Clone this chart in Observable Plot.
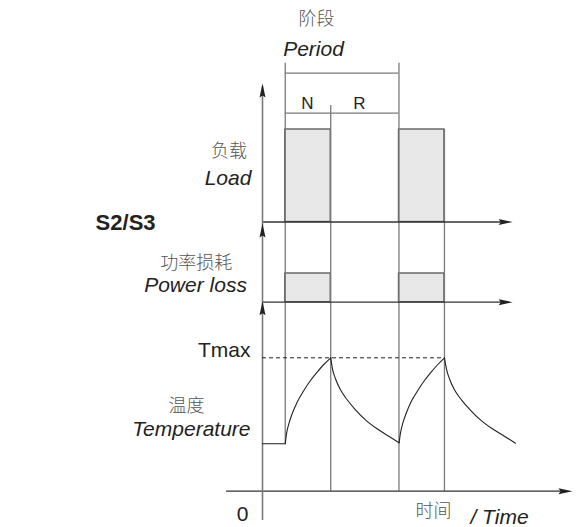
<!DOCTYPE html>
<html>
<head>
<meta charset="utf-8">
<script src="https://cdn.jsdelivr.net/npm/d3@7"></script>
<script src="https://cdn.jsdelivr.net/npm/@observablehq/plot@0.6"></script>
<style>
  html, body { margin: 0; padding: 0; background: #fff; }
</style>
</head>
<body>
<div id="chart"></div>
<script>
// ---- Data (time in period units, values in diagram units) ----
const phaseNames = ["N", "R"];
const phaseStart = [1, 3];
const phaseEnd = [3, 6];
const onStart = [1, 6];          // load switched on
const onEnd = [3, 8];            // load switched off
const loadLevel = 9.25;          // load height above its baseline
const powerLevel = 2.87;         // power loss height above its baseline
const ambientTemp = 4.74;
const maxTemp = 13.34;
const arrowEnd = 11;             // end of load / power axes
const timeEnd = 13.63;           // end of time axis

const tempTime = [
  0, 1,
  1, 1.055, 1.158, 1.304, 1.524, 1.817, 2.110, 2.403, 2.696, 3.0,
  3.0, 3.077, 3.209, 3.429, 3.722, 4.088, 4.527, 5.040, 5.553, 6.007,
  6.007, 6.066, 6.169, 6.315, 6.535, 6.828, 7.121, 7.414, 7.707, 8.0,
  8.0, 8.088, 8.220, 8.440, 8.747, 9.128, 9.582, 10.110, 10.637, 11.121
];
const tempValue = [
  4.74, 4.74,
  4.74, 5.74, 6.74, 7.74, 8.90, 10.07, 11.07, 11.90, 12.67, 13.34,
  13.34, 12.24, 11.24, 10.14, 9.14, 8.14, 7.14, 6.24, 5.50, 4.84,
  4.84, 5.80, 6.80, 7.77, 8.94, 10.07, 11.07, 11.90, 12.67, 13.34,
  13.34, 12.24, 11.24, 10.14, 9.14, 8.14, 7.14, 6.24, 5.50, 4.80
];
const tempSegment = [
  "flat", "flat",
  "rise1","rise1","rise1","rise1","rise1","rise1","rise1","rise1","rise1","rise1",
  "cool1","cool1","cool1","cool1","cool1","cool1","cool1","cool1","cool1","cool1",
  "rise2","rise2","rise2","rise2","rise2","rise2","rise2","rise2","rise2","rise2",
  "cool2","cool2","cool2","cool2","cool2","cool2","cool2","cool2","cool2","cool2"
];

const labels = {
  period: ["阶段", "Period"],
  load: ["负载", "Load"],
  power: ["功率损耗", "Power loss"],
  temp: ["温度", "Temperature"],
  tmax: "Tmax",
  zero: "0",
  time: ["时间", "/ Time"],
  mode: "S2/S3"
};

// ---- Layout (diagram units) ----
const loadBase = 26.92;
const powerBase = 18.9;
const bracketTop = 42.8;
const bracketLine1 = 41.8;
const bracketLine2 = 37.8;
const midTickTop = 38.57;
const axisTop = 40.77;
const axisBottom = -2.93;
const timeAxisStart = -1.58;

const intervals = onStart.map((s, i) => ({start: s, end: onEnd[i]}));
const tempData = tempTime.map((t, i) => ({t, v: tempValue[i], seg: tempSegment[i]}));

// narrow filled arrowhead, tip at origin pointing up
const arrowHead = {
  draw(ctx) {
    ctx.moveTo(0, 0);
    ctx.lineTo(-3, 14);
    ctx.lineTo(0, 12);
    ctx.lineTo(3, 14);
    ctx.closePath();
  }
};

const cjk = {fontFamily: "Noto Sans CJK SC", fontSize: 18, fill: "#555", fontWeight: 300};
const lat = {fontFamily: "Liberation Sans, Arial, sans-serif", fontSize: 21, fill: "#222"};
const ital = {...lat, fontStyle: "italic"};

const gray = "#7a7a7a";
const dark = "#333";

const chart = Plot.plot({
  width: 576,
  height: 527,
  marginLeft: 262,
  marginRight: 4,
  marginTop: 0,
  marginBottom: 0,
  x: {domain: [0, timeEnd], axis: null},
  y: {domain: [-3.63, 49.07], axis: null},
  style: {background: "#fff"},
  marks: [
    // load bars
    Plot.rectY(intervals, {x1: "start", x2: "end", y1: loadBase, y2: loadBase + loadLevel,
      fill: "#e8e8e8", stroke: "#555", strokeWidth: 1.3}),
    // power-loss bars
    Plot.rectY(intervals, {x1: "start", x2: "end", y1: powerBase, y2: powerBase + powerLevel,
      fill: "#e8e8e8", stroke: "#555", strokeWidth: 1.3}),
    // period boundary verticals
    Plot.ruleX([phaseStart[0]], {y1: ambientTemp, y2: bracketTop, stroke: gray, strokeWidth: 1.3}),
    Plot.ruleX([phaseEnd[0]], {y1: 0, y2: midTickTop, stroke: gray, strokeWidth: 1.3}),
    Plot.ruleX([phaseEnd[1]], {y1: 0, y2: bracketTop, stroke: gray, strokeWidth: 1.3}),
    Plot.ruleX([onEnd[1]], {y1: 0, y2: loadBase + loadLevel, stroke: gray, strokeWidth: 1.3}),
    // period bracket
    Plot.ruleY([bracketLine1, bracketLine2], {x1: phaseStart[0], x2: phaseEnd[1], stroke: gray, strokeWidth: 1.3}),
    // baselines
    Plot.ruleY([loadBase, powerBase], {x1: 0, x2: arrowEnd - 0.3, stroke: dark, strokeWidth: 1.3}),
    Plot.ruleY([0], {x1: timeAxisStart, x2: timeEnd - 0.3, stroke: dark, strokeWidth: 1.3}),
    // main vertical axis
    Plot.ruleX([0], {y1: axisBottom, y2: axisTop - 0.3, stroke: gray, strokeWidth: 1.6}),
    // Tmax dashed
    Plot.ruleY([maxTemp], {x1: 0, x2: onEnd[1], stroke: "#222", strokeWidth: 1, strokeDasharray: "4,3"}),
    // temperature curve
    Plot.line(tempData, {x: "t", y: "v", z: "seg", curve: "monotone-x", stroke: "#222", strokeWidth: 1.1}),
    // arrowheads
    Plot.dot([{x: 0, y: axisTop}, {x: 0, y: loadBase - 0.15}, {x: 0, y: powerBase + 0.1}],
      {x: "x", y: "y", symbol: arrowHead, fill: "#222", stroke: "none", r: 5}),
    Plot.dot([{x: arrowEnd, y: loadBase}, {x: arrowEnd, y: powerBase}, {x: timeEnd, y: 0}],
      {x: "x", y: "y", symbol: arrowHead, rotate: 90, fill: "#222", stroke: "none", r: 5}),
    // phase labels
    Plot.text(phaseNames, {x: [1.978, 4.264], y: 38.27, text: d => d, lineAnchor: "bottom",
      ...lat, fontSize: 17}),
    // titles
    Plot.text([labels.period[0]], {x: 2.374, y: 47.22, text: d => d, ...cjk}),
    Plot.text([labels.period[1]], {x: 2.242, y: 43.57, text: d => d, lineAnchor: "bottom", ...ital}),
    Plot.text([labels.load[0]], {x: -1.473, y: 34.0, text: d => d, ...cjk}),
    Plot.text([labels.load[1]], {x: -1.516, y: 30.67, text: d => d, lineAnchor: "bottom", ...ital}),
    Plot.text([labels.power[0]], {x: -2.914, y: 22.75, text: d => d, ...cjk}),
    Plot.text([labels.power[1]], {x: -2.945, y: 19.9, text: d => d, lineAnchor: "bottom", ...ital}),
    Plot.text([labels.tmax], {x: -0.527, y: 13.4, text: d => d, lineAnchor: "bottom", textAnchor: "end", ...lat}),
    Plot.text([labels.temp[0]], {x: -3.341, y: 8.45, text: d => d, ...cjk}),
    Plot.text([labels.temp[1]], {x: -0.527, y: 5.57, text: d => d, lineAnchor: "bottom", textAnchor: "end", ...ital}),
    Plot.text([labels.zero], {x: -0.879, y: -2.93, text: d => d, lineAnchor: "bottom", ...lat}),
    Plot.text([labels.time[0]], {x: 6.725, y: -1.98, text: d => d, textAnchor: "start", ...cjk}),
    Plot.text([labels.time[1]], {x: 9.143, y: -3.23, text: d => d, lineAnchor: "bottom", textAnchor: "start", ...ital}),
    Plot.text([labels.mode], {x: -6.02, y: 26.87, text: d => d, ...lat, fontSize: 22, fontWeight: "bold"})
  ]
});
document.getElementById("chart").appendChild(chart);
</script>
</body>
</html>
